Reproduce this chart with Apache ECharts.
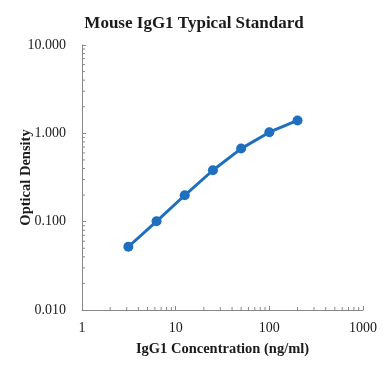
<!DOCTYPE html>
<html><head><meta charset="utf-8">
<script src="https://cdn.jsdelivr.net/npm/echarts@6/dist/echarts.min.js"></script>
<style>html,body{margin:0;padding:0;background:#fff}#c{width:388px;height:386px}</style>
</head><body><div id="c"></div>
<script>
var titleText = 'Mouse IgG1 Typical Standard';
var xName = 'IgG1 Concentration (ng/ml)';
var yName = 'Optical Density';
var concentrations = [3.125, 6.25, 12.5, 25, 50, 100, 200];
var odValues = [0.052, 0.101, 0.199, 0.382, 0.672, 1.03, 1.40];
var xTickValues = [1, 10, 100, 1000];
var yTickValues = [0.01, 0.1, 1, 10];

var points = concentrations.map(function (c, i) { return [c, odValues[i]]; });

function minorList(lo, hi) {
  var out = [];
  for (var d = lo; d < hi; d *= 10) {
    for (var k = 2; k <= 9; k++) out.push(d * k);
  }
  return out;
}
var xMinor = minorList(1, 1000);
var yMinor = minorList(0.01, 10);
var tickData = xMinor.map(function (v) { return ['x', v]; }).concat(yMinor.map(function (v) { return ['y', v]; }));

var axisColor = '#888888';
var textColor = '#1a1a1a';
var font = '"Liberation Serif", "Times New Roman", serif';

var chart = echarts.init(document.getElementById('c'), null, {renderer: 'canvas'});
chart.setOption({
  animation: false,
  backgroundColor: '#ffffff',
  title: {
    text: titleText, left: 'center', top: 10,
    textStyle: {fontFamily: font, fontSize: 17, fontWeight: 'bold', color: textColor}
  },
  grid: {left: 82, right: 25, top: 45, bottom: 76, containLabel: false, outerBoundsMode: 'none'},
  xAxis: {
    type: 'log', logBase: 10, min: 1, max: 1000,
    name: xName, nameLocation: 'middle', nameGap: 32, nameMoveOverlap: false,
    nameTextStyle: {fontFamily: font, fontSize: 14.5, fontWeight: 'bold', color: textColor},
    axisLine: {lineStyle: {color: axisColor, width: 1}},
    axisTick: {show: true, inside: true, length: 4, lineStyle: {color: axisColor}},
    axisLabel: {fontFamily: font, fontSize: 14, color: textColor, margin: 11,
      formatter: function (v) { return String(Math.round(v)); }},
    splitLine: {show: false}
  },
  yAxis: {
    type: 'log', logBase: 10, min: 0.01, max: 10,
    name: yName, nameLocation: 'middle', nameGap: 48, nameMoveOverlap: false,
    nameTextStyle: {fontFamily: font, fontSize: 14.5, fontWeight: 'bold', color: textColor},
    axisLine: {show: true, lineStyle: {color: axisColor, width: 1}},
    axisTick: {show: true, inside: true, length: 4, lineStyle: {color: axisColor}},
    axisLabel: {fontFamily: font, fontSize: 14, color: textColor, margin: 16,
      formatter: function (v) { return v.toFixed(3); }},
    splitLine: {show: false}
  },
  series: [
    {
      type: 'custom',
      silent: true,
      data: tickData,
      encode: {x: -1, y: -1},
      renderItem: function (params, api) {
        var axis = tickData[params.dataIndex][0];
        var v = tickData[params.dataIndex][1];
        var p;
        if (axis === 'x') {
          p = api.coord([v, 0.01]);
          return {type: 'line', shape: {x1: p[0], y1: p[1], x2: p[0], y2: p[1] - 3},
            style: {stroke: axisColor, lineWidth: 1}};
        } else {
          p = api.coord([1, v]);
          return {type: 'line', shape: {x1: p[0], y1: p[1], x2: p[0] + 3, y2: p[1]},
            style: {stroke: axisColor, lineWidth: 1}};
        }
      }
    },
    {
      type: 'line',
      data: points,
      symbol: 'circle',
      symbolSize: 10,
      lineStyle: {color: '#1f6fbf', width: 3},
      itemStyle: {color: '#1f6fbf'}
    }
  ]
});
</script></body></html>
